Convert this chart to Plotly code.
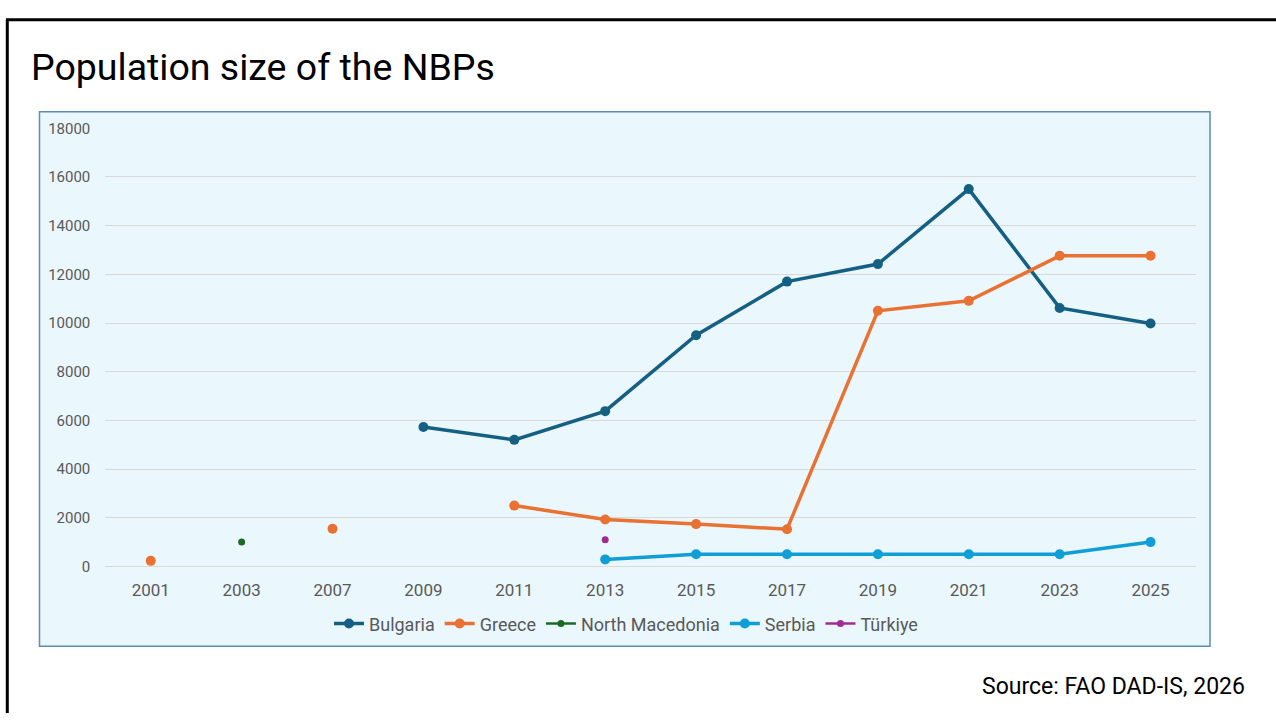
import plotly.graph_objects as go

W, H = 1276, 722

years = ["2001", "2003", "2007", "2009", "2011", "2013", "2015", "2017", "2019", "2021", "2023", "2025"]
bulgaria = [None, None, None, 5730, 5200, 6380, 9500, 11700, 12420, 15500, 10620, 9980]
greece = [230, None, 1550, None, 2500, 1930, 1740, 1530, 10500, 10910, 12760, 12760]
north_macedonia = [None, 1000, None, None, None, None, None, None, None, None, None, None]
serbia = [None, None, None, None, None, 290, 500, 500, 500, 500, 500, 1000]
turkiye = [None, None, None, None, None, 1100, None, None, None, None, None, None]
y_ticks = [0, 2000, 4000, 6000, 8000, 10000, 12000, 14000, 16000, 18000]

series = [
    ("Bulgaria", bulgaria, "#156082", 3.5, 10),
    ("Greece", greece, "#E97132", 3.5, 10),
    ("North Macedonia", north_macedonia, "#196B24", 2.5, 7),
    ("Serbia", serbia, "#0F9ED5", 3.5, 10),
    ("Türkiye", turkiye, "#A02B93", 2.5, 7),
]


def fx(px):
    return px / W


def fy(py):
    return 1 - py / H


fig = go.Figure()
for name, vals, color, lw, ms in series:
    fig.add_trace(go.Scatter(
        x=years, y=vals, name=name, mode="lines+markers",
        line=dict(color=color, width=lw),
        marker=dict(color=color, size=ms),
        connectgaps=False,
    ))

# chart area box
fig.add_shape(type="rect", xref="paper", yref="paper",
              x0=fx(39.5), x1=fx(1210), y0=fy(653.5), y1=fy(105.5),
              fillcolor="#EAF7FD", line=dict(color="#5B8FB1", width=1.5), layer="below")
# slide borders (top and left)
fig.add_shape(type="line", xref="paper", yref="paper",
              x0=fx(6), x1=1, y0=fy(11), y1=fy(11), line=dict(color="black", width=3))
fig.add_shape(type="line", xref="paper", yref="paper",
              x0=fx(7.3), x1=fx(7.3), y0=fy(11), y1=0, line=dict(color="black", width=3))

fig.add_annotation(text="Population size of the NBPs", xref="paper", yref="paper",
                   x=fx(29), y=fy(59), xanchor="left", yanchor="middle", showarrow=False,
                   font=dict(family="Roboto", size=37.5, color="black"))
fig.add_annotation(text="Source: FAO DAD-IS, 2026", xref="paper", yref="paper",
                   x=fx(1247), y=fy(695), xanchor="right", yanchor="middle", showarrow=False,
                   font=dict(family="Roboto", size=23, color="black"))

fig.update_layout(
    width=W, height=H,
    margin=dict(l=0, r=0, t=0, b=0),
    paper_bgcolor="white", plot_bgcolor="rgba(0,0,0,0)",
    font=dict(family="Roboto", color="#595959"),
    showlegend=True,
    legend=dict(orientation="h", x=fx(626), xanchor="center", y=fy(630.5), yanchor="middle",
                bgcolor="rgba(0,0,0,0)", font=dict(size=18, color="#595959"),
                itemwidth=30, tracegroupgap=0),
    xaxis=dict(domain=[fx(105.3), fx(1196)], type="category", categoryorder="array",
               categoryarray=years, range=[-0.5, len(years) - 0.5],
               showgrid=False, zeroline=False, showline=False, ticks="",
               tickfont=dict(size=17, color="#595959"), ticklabelstandoff=12, fixedrange=True),
    yaxis=dict(domain=[fy(571.7), fy(122.3)], range=[0, 18000], tickvals=y_ticks, tickformat="d",
               showgrid=True, gridcolor="#D9D9D9", gridwidth=1.2,
               zeroline=True, zerolinecolor="#D9D9D9", zerolinewidth=1.2,
               showline=False, ticks="", tickfont=dict(size=15, color="#595959"),
               ticklabelstandoff=14, fixedrange=True),
)

fig.write_html("out.html", config={"displayModeBar": False},
               post_script="document.body.style.margin='0';document.body.style.overflow='hidden';")
